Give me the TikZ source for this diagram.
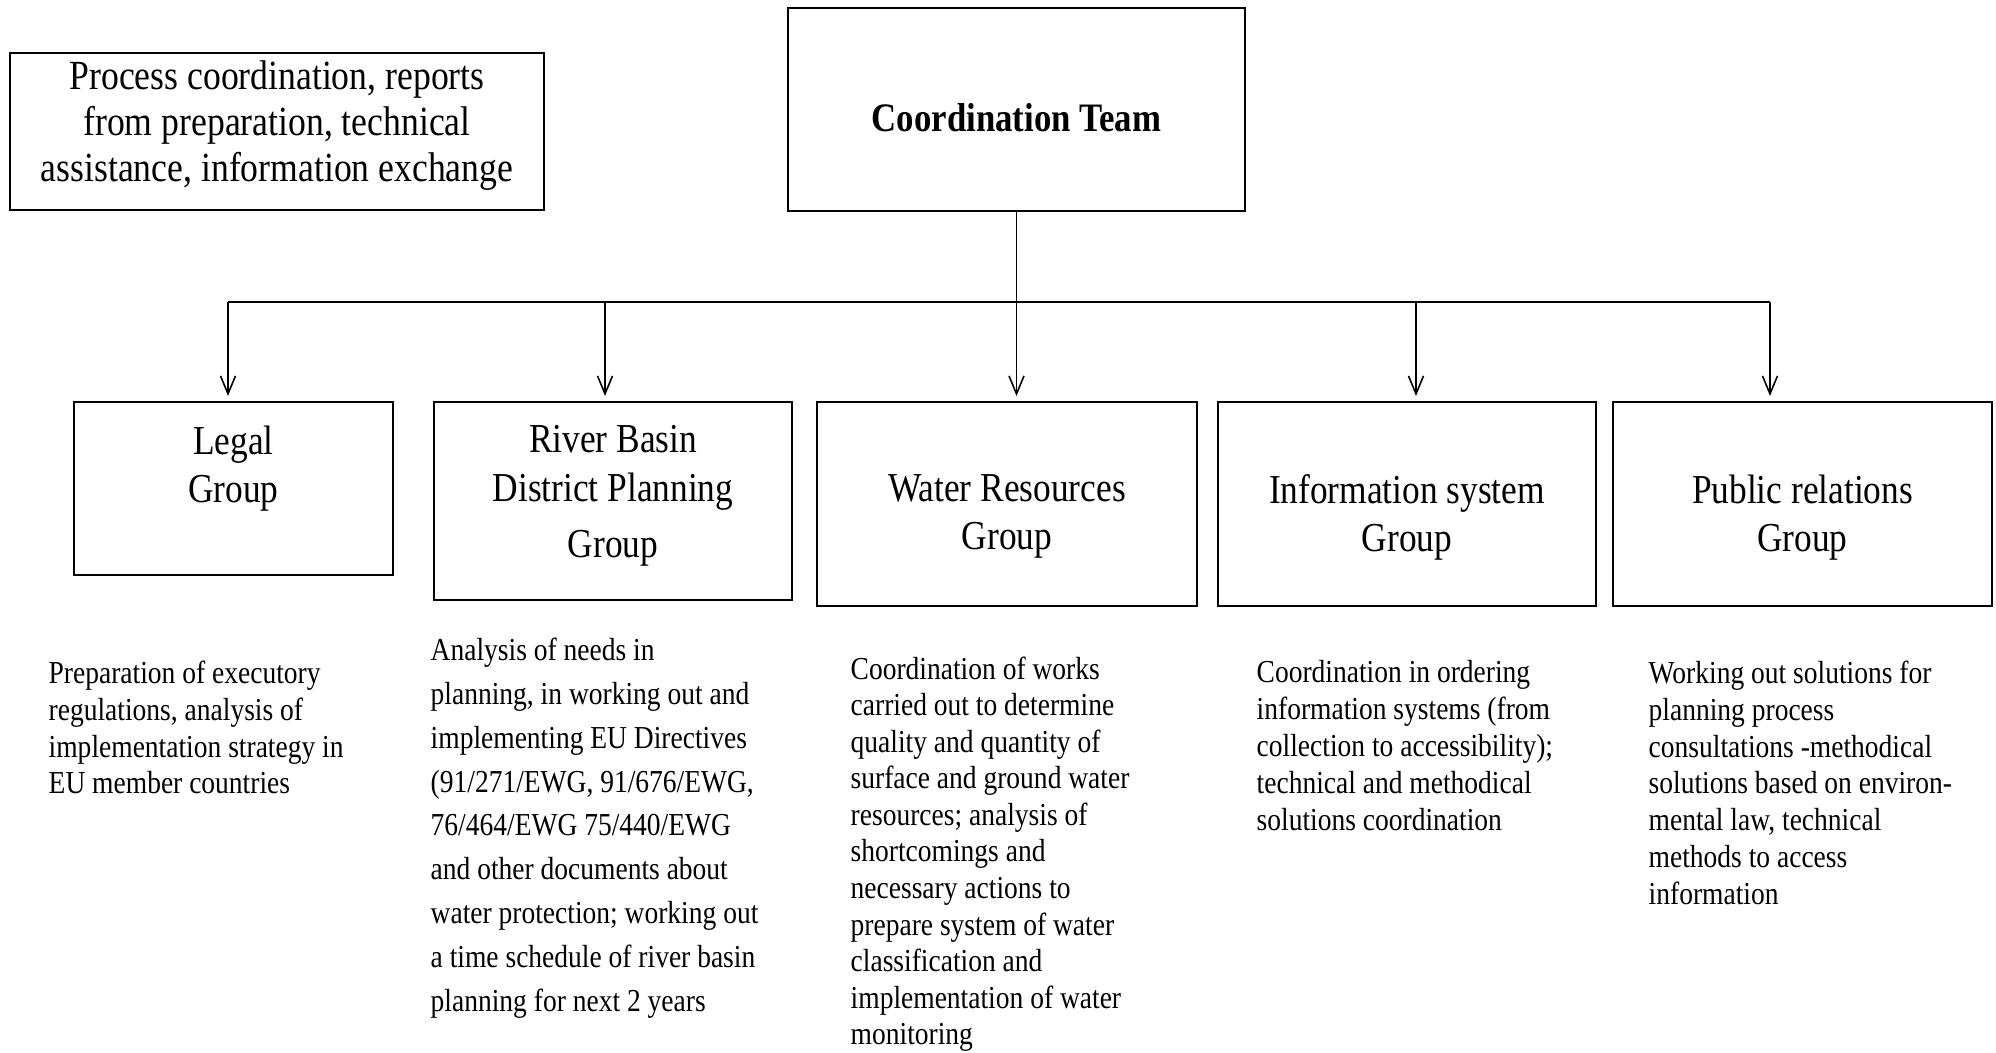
\documentclass[tikz,border=0pt]{standalone}
\usepackage{fontspec}
\setmainfont{Liberation Serif}[FakeStretch=0.86]
\usepackage{tikz}
\usetikzlibrary{arrows.meta, positioning}

\tikzset{
  box/.style={draw, line width=0.6pt, inner sep=0pt},
  grptext/.style={align=center, inner sep=0pt, font=\fontsize{11.7}{13.7}\selectfont},
  desc/.style={align=left, anchor=north west, inner sep=0pt, font=\fontsize{9.1}{10.5}\selectfont},
  conn/.style={line width=0.45pt, -{Straight Barb[length=1.8mm, width=1.5mm]}, shorten >=0.5mm}
}

\begin{document}
\begin{tikzpicture}
\useasboundingbox (0,0) rectangle (19.96,-10.53);

% top row
\node[box, minimum width=5.34cm, minimum height=1.57cm, align=center, text depth=0.2cm,
      font=\fontsize{11.8}{13.1}\selectfont] (proc) at (2.77,-1.315)
  {Process coordination, reports\\from preparation, technical\\assistance, information exchange};
\node[box, minimum width=4.57cm, minimum height=2.03cm, text height=0.43cm, text depth=0cm,
      font=\bfseries\fontsize{11.5}{13}\selectfont] (ct) at (10.165,-1.095) {Coordination Team};

% group boxes
\node[box, minimum width=3.19cm, minimum height=1.73cm] (legal) at (2.335,-4.885) {};
\node[box, minimum width=3.58cm, minimum height=1.98cm] (rbdp) at (6.13,-5.01) {};
\node[box, minimum width=3.80cm, minimum height=2.04cm] (water) at (10.07,-5.04) {};
\node[box, minimum width=3.78cm, minimum height=2.04cm] (info) at (14.07,-5.04) {};
\node[box, minimum width=3.79cm, minimum height=2.04cm] (public) at (18.025,-5.04) {};

\node[grptext, below=0.24cm of legal.north] (legalT) {Legal\\Group};
\node[grptext, below=0.24cm of rbdp.north] (rbdpT) {River Basin\\District Planning\\[0.08cm]Group};
\node[grptext, below=0.73cm of water.north] (waterT) {Water Resources\\Group};
\node[grptext, below=0.73cm of info.north] (infoT) {Information system\\Group};
\node[grptext, below=0.73cm of public.north] (publicT) {Public relations\\Group};

% connectors
\coordinate (b1) at (2.28,-3.02);
\coordinate (b2) at (6.05,-3.02);
\coordinate (b3) at (ct.south |- b1);
\coordinate (b4) at (14.16,-3.02);
\coordinate (b5) at (17.70,-3.02);
\draw[line width=0.8pt] (b1) -- (b5);
\draw[line width=0.45pt] (ct.south) -- (b3);
\foreach \b/\g in {b1/legal, b2/rbdp, b3/water, b4/info, b5/public}
  \draw[conn] (\b) -- (\b |- \g.north);

% descriptions
\node[desc] (legalD) at (0.48,-6.60)
  {Preparation of executory\\regulations, analysis of\\implementation strategy in\\EU member countries};
\node[desc, font=\fontsize{9.1}{12.5}\selectfont] (rbdpD) at (4.30,-6.37)
  {Analysis of needs in\\planning, in working out and\\implementing EU Directives\\(91/271/EWG, 91/676/EWG,\\76/464/EWG 75/440/EWG\\and other documents about\\water protection; working out\\a time schedule of river basin\\planning for next 2 years};
\node[desc, font=\fontsize{9.1}{10.4}\selectfont] (waterD) at (8.50,-6.56)
  {Coordination of works\\carried out to determine\\quality and quantity of\\surface and ground water\\resources; analysis of\\shortcomings and\\necessary actions to\\prepare system of water\\classification and\\implementation of water\\monitoring};
\node[desc] (infoD) at (12.56,-6.60)
  {Coordination in ordering\\information systems (from\\collection to accessibility);\\technical and methodical\\solutions coordination};
\node[desc] (publicD) at (16.48,-6.60)
  {Working out solutions for\\planning process\\consultations -methodical\\solutions based on environ-\\mental law, technical\\methods to access\\information};
\end{tikzpicture}
\end{document}
